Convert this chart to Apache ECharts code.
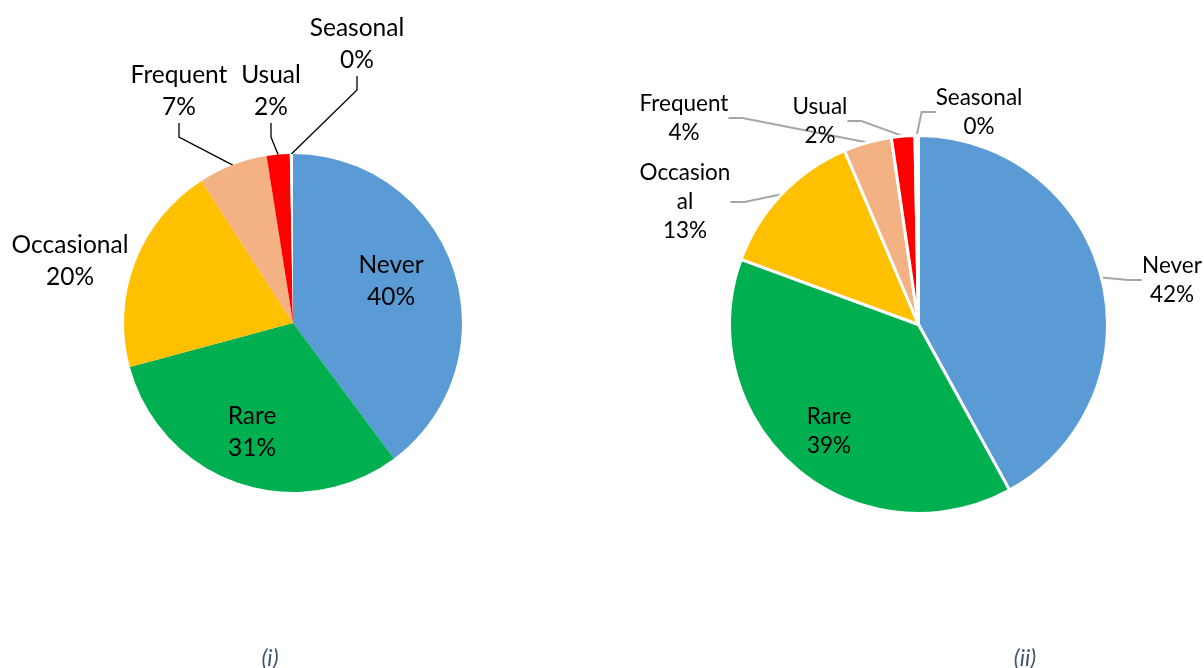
<!DOCTYPE html>
<html>
<head>
<meta charset="utf-8">
<script src="https://cdn.jsdelivr.net/npm/echarts@6/dist/echarts.min.js"></script>
<style>
  html, body { margin: 0; padding: 0; background: #fff; }
  #chart { width: 1204px; height: 668px; }
</style>
</head>
<body>
<div id="chart"></div>
<script>
// Frequency categories shared by both pies
const categories = ['Never', 'Rare', 'Occasional', 'Frequent', 'Usual', 'Seasonal'];
// Share of responses (%) for panel (i) and panel (ii)
const valuesI  = [39.8, 31.0, 20.1, 6.6, 2.2, 0.3];
const valuesII = [42.0, 38.6, 13.0, 4.1, 2.0, 0.3];
const captions = ['(i)', '(ii)'];

const sliceColors = ['#5B9BD5', '#00B050', '#FFC000', '#F4B183', '#FF0000', '#FFFFFF'];

// Where each category's label sits, per panel (text centre, px)
const labelSpotsI = {
  Never: [391, 281], Rare: [252, 432], Occasional: [70, 261],
  Frequent: [179, 91], Usual: [271, 91], Seasonal: [357, 44]
};
const labelSpotsII = {
  Never: [1172, 280], Rare: [829, 431], Occasional: [685, 202],
  Frequent: [684, 118], Usual: [820, 121], Seasonal: [979, 112]
};
// categories drawn without a leader line
const noLineI = ['Never', 'Rare', 'Occasional'];
const noLineII = ['Rare'];
// long names that wrap after n characters in panel (ii)
const wrapII = { Occasional: 8 };

const fontFamily = 'Lato, "Noto Sans", sans-serif';

function buildData(values, noLine) {
  return categories.map((name, i) => ({
    name: name,
    value: values[i],
    itemStyle: { color: sliceColors[i] },
    labelLine: { show: noLine.indexOf(name) < 0 }
  }));
}

function pctText(p) {
  return Math.round(p) + '%';
}

const chart = echarts.init(document.getElementById('chart'), null, { renderer: 'canvas' });

function layoutFrom(spots) {
  return function (params) {
    const name = categories[params.dataIndex];
    const s = spots[name];
    return { x: s[0], y: s[1], align: 'center', verticalAlign: 'middle' };
  };
}

const captionStyle = {
  fontFamily: fontFamily, fontStyle: 'italic', fontWeight: 'normal', fontSize: 23, color: '#44546A'
};

chart.setOption({
  animation: false,
  backgroundColor: '#ffffff',
  title: [
    { text: captions[0], left: 265, top: 642, textAlign: 'center', textStyle: captionStyle },
    { text: captions[1], left: 1020, top: 642, textAlign: 'center', textStyle: captionStyle }
  ],
  series: [
    {
      type: 'pie',
      center: [293, 323],
      radius: [0, 169],
      startAngle: 90,
      clockwise: true,
      avoidLabelOverlap: false,
      data: buildData(valuesI, noLineI),
      itemStyle: { borderWidth: 0 },
      label: {
        show: true,
        position: 'outside',
        formatter: p => p.name + '\n' + pctText(p.value),
        fontFamily: fontFamily,
        fontSize: 24.5,
        lineHeight: 32,
        color: '#000000',
        align: 'center'
      },
      labelLine: {
        show: true,
        length: 10,
        length2: 14,
        lineStyle: { color: '#000000', width: 1.3 }
      },
      labelLayout: layoutFrom(labelSpotsI),
      emphasis: { disabled: true }
    },
    {
      type: 'pie',
      center: [918.5, 324.5],
      radius: [0, 189],
      startAngle: 90,
      clockwise: true,
      avoidLabelOverlap: false,
      data: buildData(valuesII, noLineII),
      itemStyle: { borderColor: '#ffffff', borderWidth: 3 },
      label: {
        show: true,
        position: 'outside',
        formatter: p => {
          let n = p.name;
          if (wrapII[n]) n = n.slice(0, wrapII[n]) + '\n' + n.slice(wrapII[n]);
          return n + '\n' + pctText(p.value);
        },
        fontFamily: fontFamily,
        fontSize: 22.5,
        lineHeight: 29,
        color: '#000000',
        align: 'center'
      },
      labelLine: {
        show: true,
        length: 10,
        length2: 14,
        lineStyle: { color: '#A6A6A6', width: 2 }
      },
      labelLayout: layoutFrom(labelSpotsII),
      emphasis: { disabled: true }
    }
  ]
});
</script>
</body>
</html>
